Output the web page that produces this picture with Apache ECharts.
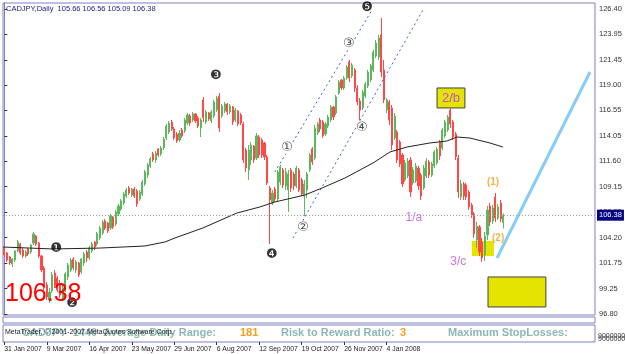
<!DOCTYPE html>
<html><head><meta charset="utf-8">
<script src="https://cdn.jsdelivr.net/npm/echarts@6/dist/echarts.min.js"></script>
<style>html,body{margin:0;padding:0;background:#fff}#c{width:625px;height:354px}</style>
</head><body><div id="c"></div>
<script>
// ---- data (each candle = 2 daily bars) ----
const titleText = 'CADJPY,Daily  105.66 106.56 105.09 106.38';
const dateLabels = ['31 Jan 2007','9 Mar 2007','16 Apr 2007','23 May 2007','29 Jun 2007','6 Aug 2007','12 Sep 2007','19 Oct 2007','26 Nov 2007','4 Jan 2008'];
const labelEvery = 16;
const totalSlots = 223;
const priceTicks = [96.80, 99.25, 101.75, 104.20, 106.65, 109.15, 111.60, 114.05, 116.55, 119.00, 121.45, 123.95, 126.40];
const lastPrice = 106.38;

const opens = [
103.20,102.71,102.32,101.64,102.03,102.91,103.58,103.00,102.42,103.10,
102.81,103.68,104.36,103.68,102.42,101.26,99.60,98.15,99.02,100.77,
100.28,99.70,98.35,99.12,100.38,101.06,102.13,101.06,101.74,100.87,
101.74,102.81,102.23,102.91,103.78,103.58,104.17,104.65,105.82,105.62,
105.14,106.21,105.53,106.50,106.98,107.57,108.24,109.02,108.34,108.92,
108.73,107.95,108.44,109.41,110.28,111.16,112.32,111.74,112.81,112.32,
112.90,113.88,114.46,115.43,114.75,114.26,113.68,114.65,114.56,115.33,
116.01,115.62,116.21,115.82,114.85,117.57,115.43,116.30,115.53,116.01,
116.59,117.95,116.01,116.50,117.18,116.40,116.89,115.62,116.50,116.11,
115.24,112.71,110.77,111.74,113.10,111.93,113.97,113.68,113.39,112.03,
109.02,107.57,108.92,107.95,109.60,110.77,109.22,108.83,110.77,110.38,
109.22,110.77,109.80,108.24,108.83,110.77,112.81,111.93,114.36,115.62,
115.43,114.26,115.04,115.62,116.89,116.30,118.24,119.51,118.73,119.70,
121.25,119.90,120.48,118.73,117.47,116.79,117.95,118.92,119.51,120.48,
121.84,121.74,123.88,120.48,116.59,117.37,116.79,113.88,114.46,113.49,
112.23,109.80,110.19,111.74,109.51,109.70,110.96,110.28,109.02,110.19,
111.55,110.28,111.16,111.45,113.49,112.90,114.07,114.65,116.59,115.43,
114.26,111.93,108.15,109.41,109.31,108.63,107.37,106.50,103.97,105.24,
103.78,102.52,104.46,107.27,105.82,108.15,106.11,107.57,105.66];
const closes = [
102.52,102.03,101.74,102.13,102.91,103.78,102.71,102.42,102.81,102.61,
103.49,104.56,103.58,102.42,101.06,99.31,98.44,98.92,100.58,99.60,
99.12,98.63,99.31,100.67,101.55,102.03,101.26,101.84,100.58,102.13,
102.61,102.23,103.20,103.58,103.29,104.56,105.14,105.72,105.14,104.85,
106.30,105.24,106.69,107.27,107.76,108.44,108.83,108.54,108.92,108.24,
107.47,108.63,109.60,110.58,111.26,111.84,111.74,112.42,112.23,112.90,
113.78,115.04,115.33,114.75,113.88,113.58,114.36,114.07,115.62,116.11,
115.33,116.21,115.53,115.04,115.62,115.82,116.40,115.72,116.40,117.37,
117.76,114.85,116.98,117.18,116.40,116.98,115.43,116.59,115.24,115.33,
111.74,110.96,112.71,113.20,111.74,114.07,112.23,112.23,112.03,109.51,
107.86,108.54,107.95,110.58,111.06,109.31,110.58,110.38,109.02,109.22,
110.96,108.83,108.44,109.41,110.38,112.23,111.55,114.85,115.24,114.75,
114.07,115.24,115.91,116.89,115.91,117.86,119.31,118.73,119.70,120.77,
119.70,120.96,118.73,117.37,116.59,118.34,119.12,120.28,120.87,122.23,
123.10,123.58,120.28,117.57,117.57,115.62,113.20,116.01,111.74,111.35,
109.41,111.45,111.64,108.63,110.77,111.16,109.22,108.24,110.96,111.64,
110.28,111.35,112.52,112.81,112.13,114.65,115.43,115.91,115.24,113.97,
112.03,108.63,109.41,108.24,108.15,107.18,106.40,104.56,105.33,102.81,
102.23,104.36,106.89,105.72,107.08,106.11,107.18,106.01,106.38];
const lows = [
102.32,101.84,101.55,101.35,101.84,102.81,102.52,102.23,102.23,102.42,
102.61,103.49,103.39,102.23,100.87,99.12,98.15,97.86,98.83,99.31,
98.92,98.35,98.05,98.92,100.09,100.87,101.06,100.77,100.38,100.67,
101.45,101.84,102.03,102.71,103.00,103.39,103.97,104.46,104.94,104.65,
104.94,105.04,105.33,106.30,106.79,107.37,108.05,108.34,108.15,108.05,
107.18,107.76,108.24,109.22,109.99,110.96,111.55,111.45,112.03,112.13,
112.71,113.68,114.26,114.56,113.68,113.39,113.49,113.88,114.36,115.14,
115.04,115.43,115.33,114.85,113.97,115.43,115.24,115.53,115.33,115.82,
116.40,114.46,115.82,116.30,116.11,116.21,115.14,115.43,115.04,115.14,
111.45,110.58,109.80,111.26,111.45,111.74,111.93,111.93,111.74,109.31,
103.58,107.37,107.66,107.66,109.31,109.02,108.83,106.69,108.63,108.83,
109.02,108.63,108.24,106.30,108.05,110.58,111.26,111.74,114.17,114.46,
113.88,114.07,114.85,115.43,115.62,116.11,118.05,118.54,118.54,119.51,
119.31,119.70,118.34,117.08,115.62,116.59,117.76,118.73,119.31,120.28,
121.64,121.45,119.80,117.27,116.30,115.14,112.71,113.68,111.45,111.06,
109.12,109.60,109.99,108.15,109.31,109.51,108.83,107.86,108.83,109.99,
109.99,110.09,110.96,111.26,111.74,112.71,113.88,114.46,114.85,113.68,
111.74,108.05,107.86,107.86,107.86,106.89,106.11,104.17,103.20,102.42,
101.84,101.94,103.97,105.33,105.53,105.72,105.92,105.72,105.09];
const highs = [
103.29,102.81,102.42,102.23,103.00,103.97,103.68,103.20,103.00,103.20,
103.58,104.75,104.46,103.78,102.52,101.45,99.90,99.31,100.87,101.06,
100.48,100.09,99.60,100.87,101.74,102.23,102.32,102.03,101.84,102.23,
102.81,103.00,103.39,103.78,103.88,104.75,105.33,105.92,106.01,105.72,
106.50,106.30,106.89,107.47,107.95,108.63,109.02,109.22,109.02,109.12,
108.92,108.83,109.80,110.77,111.45,112.03,112.52,112.61,112.90,113.10,
113.97,115.24,115.53,115.62,114.94,114.46,114.65,114.85,115.82,116.30,
116.21,116.40,116.30,116.01,115.82,117.86,116.59,116.40,116.59,117.57,
117.95,118.24,117.18,117.37,117.27,117.18,116.98,116.79,116.59,116.30,
115.43,112.90,113.20,113.49,113.20,114.36,114.17,113.88,113.49,112.23,
109.22,108.83,109.12,110.77,111.26,110.96,110.96,110.77,110.96,110.58,
111.16,110.96,109.99,109.80,110.58,112.42,113.00,115.14,115.43,115.82,
115.62,115.43,116.11,117.08,116.98,118.05,119.51,119.60,119.90,120.96,
121.45,121.16,120.67,119.02,117.76,118.54,119.31,120.48,121.06,122.42,
123.39,123.88,125.53,121.45,117.76,117.57,117.08,116.30,114.65,113.68,
112.42,111.74,111.93,112.03,111.06,111.45,111.16,110.48,111.26,111.93,
111.74,111.55,112.71,113.00,113.68,114.85,115.62,116.11,116.79,115.62,
114.46,112.23,109.80,109.60,109.51,108.83,107.57,106.69,105.72,105.43,
104.17,104.75,107.27,107.57,107.37,108.54,107.47,107.86,106.56];

// moving average (slot index, price)
const maPoints = [[-0.5,103.29],[18.3,103.10],[36.0,103.19],[53.0,103.39],[60.5,103.78],[64.3,104.17],
[74.8,105.14],[87.6,106.59],[96.3,107.18],[101.9,107.66],[113.2,108.34],[119.7,109.02],[128.3,109.99],
[138.9,111.45],[145.3,112.52],[151.7,113.00],[160.3,113.39],[166.7,113.58],[170.5,113.97],[175.4,113.87],
[182.9,113.39],[187.8,113.00]];
// trend lines
const channelUpper = [[101.9,110.57],[138.5,126.30]];
const channelLower = [[108.7,104.16],[157.7,126.30]];
const targetLine = [[185.6,102.22],[220.6,120.28]];
// wave annotations [slot, price, text]
const majorWaves = [[19.5,103.10,'❶'],[25.5,97.76,'❷'],[79.7,119.89,'❸'],[100.8,102.51,'❹'],[136.6,126.50,'❺']];
const minorWaves = [[106.5,112.90,'①'],[112.5,105.13,'②'],[129.8,123.00,'③'],[134.7,114.85,'④']];
const abcLabels = [[154.3,106.11,'1/a'],[171.0,101.83,'3/c']];
const subLabels = [[184.1,109.60,'(1)'],[186.0,104.16,'(2)']];
const boxB = [[163.0,118.73],[173.5,116.79]];
const boxC = [[176.1,103.88],[184.4,102.42]];
const boxTarget = [[182.2,100.38],[204.0,97.47]];

// ---- chart ----
const FONT = 'Liberation Sans';
const frame = '#8080c4';
const cats = Array.from({length: totalSlots}, (_, i) => String(i));
const showLabel = (idx) => idx % labelEvery === 0 && idx / labelEvery < dateLabels.length;
const candles = opens.map((o, i) => [o, closes[i], lows[i], highs[i]]);
const annot = (arr, label) => ({
  type: 'scatter', xAxisIndex: 3, yAxisIndex: 0, symbolSize: 1, z: 10,
  itemStyle: {color: 'rgba(0,0,0,0)'},
  data: arr.map(a => [a[0], a[1], a[2]]),
  label: Object.assign({show: true, position: 'inside', formatter: p => p.data[2], fontFamily: FONT}, label)
});

const chart = echarts.init(document.getElementById('c'), null, {renderer: 'canvas'});
chart.setOption({
  animation: false,
  backgroundColor: '#ffffff',
  grid: [
    {left: 3, right: 30, top: 3, bottom: 39, show: true, borderColor: frame, borderWidth: 1},
    {left: 3, right: 30, top: 317, height: 6, show: true, borderColor: frame, borderWidth: 1},
    {left: 3, right: 30, top: 325, height: 17, show: true, borderColor: frame, borderWidth: 1}
  ],
  xAxis: [
    {type: 'category', gridIndex: 0, data: cats, boundaryGap: true, axisLine: {show: false}, axisTick: {show: false}, axisLabel: {show: false}},
    {type: 'category', gridIndex: 1, data: cats, boundaryGap: true, axisLine: {show: false}, axisTick: {show: false}, axisLabel: {show: false}},
    {type: 'category', gridIndex: 2, data: cats, boundaryGap: true, position: 'bottom',
      axisLine: {show: false},
      axisTick: {show: true, alignWithLabel: true, interval: showLabel, length: 3, lineStyle: {color: '#333'}},
      axisLabel: {show: true, interval: showLabel, formatter: (v, idx) => dateLabels[idx / labelEvery] || '',
        align: 'left', margin: 4, fontSize: 6.8, color: '#222', fontFamily: FONT}},
    {type: 'value', gridIndex: 0, min: -0.5, max: totalSlots - 0.5, show: false}
  ],
  yAxis: [
    {type: 'value', gridIndex: 0, position: 'right', min: 96.69, max: 126.98, scale: true,
      axisLine: {show: true, lineStyle: {color: frame}},
      axisTick: {show: true, customValues: priceTicks, length: 3, lineStyle: {color: '#333'}},
      axisLabel: {show: true, customValues: priceTicks, formatter: v => v.toFixed(2), fontSize: 7.5, color: '#333', margin: 4, fontFamily: FONT},
      splitLine: {show: false}},
    {type: 'value', gridIndex: 1, min: 0, max: 1, show: false},
    {type: 'value', gridIndex: 2, min: 0, max: 1, show: false}
  ],
  series: [
    {type: 'line', xAxisIndex: 3, yAxisIndex: 0, data: [], z: 1,
      markArea: {silent: true, data: [
        [{coord: boxC[0], itemStyle: {color: '#e4e400'}}, {coord: boxC[1]}]
      ]}},
    {type: 'candlestick', xAxisIndex: 0, yAxisIndex: 0, data: candles, barWidth: 1.6, z: 3,
      itemStyle: {color: '#5cb85c', color0: '#ff4848', borderColor: '#5cb85c', borderColor0: '#ff4848', borderWidth: 1},
      markLine: {silent: true, symbol: 'none', data: [{yAxis: lastPrice}],
        lineStyle: {type: [1, 2], color: '#a0a0a0', width: 1},
        label: {show: true, position: 'end', distance: 2, formatter: lastPrice.toFixed(2), backgroundColor: '#000080', color: '#fff',
          fontSize: 7.5, padding: [2, 2, 1, 2], fontFamily: FONT}}},
    {type: 'line', xAxisIndex: 3, yAxisIndex: 0, data: maPoints, symbol: 'none', z: 4, lineStyle: {color: '#222', width: 1}},
    {type: 'line', xAxisIndex: 3, yAxisIndex: 0, data: channelUpper, symbol: 'none', z: 4, lineStyle: {color: '#4060d0', width: 1, type: [2, 3]}},
    {type: 'line', xAxisIndex: 3, yAxisIndex: 0, data: channelLower, symbol: 'none', z: 4, lineStyle: {color: '#4060d0', width: 1, type: [2, 3]}},
    {type: 'line', xAxisIndex: 3, yAxisIndex: 0, data: targetLine, symbol: 'none', z: 4, lineStyle: {color: '#87cdf5', width: 3}},
    {type: 'line', xAxisIndex: 3, yAxisIndex: 0, data: [], z: 6,
      markArea: {silent: true, data: [
        [{coord: boxTarget[0], itemStyle: {color: '#e4e400', borderColor: '#404040', borderWidth: 1}}, {coord: boxTarget[1]}],
        [{coord: boxB[0], name: '2/b', itemStyle: {color: '#e4e400', borderColor: '#404040', borderWidth: 1}}, {coord: boxB[1]}]
      ], label: {show: true, position: 'inside', color: '#c050d8', fontSize: 13, fontFamily: FONT}}},
    annot(majorWaves, {color: '#000', fontSize: 13, fontFamily: 'DejaVu Sans'}),
    annot(minorWaves, {color: '#222', fontSize: 13, fontFamily: 'DejaVu Sans', backgroundColor: '#fff', borderRadius: 7}),
    annot(abcLabels, {color: '#c050d8', fontSize: 12}),
    annot(subLabels, {color: '#f0a020', fontSize: 10, fontWeight: 'bold'})
  ],
  graphic: [
    {type: 'text', left: 6, top: 5, z: 20, style: {text: titleText, fill: '#1a1a80', font: '7.5px "Liberation Sans"'}},
    {type: 'text', left: 5, top: 282, z: 20, style: {text: '106.38', fill: '#ff0000', font: '25px "Liberation Sans"'}},
    {type: 'text', left: 22, top: 327, z: 20, style: {text: 'CADJPY  1440  Average Daily Range:', fill: '#8cb8b4', font: 'bold 11px "Liberation Sans"'}},
    {type: 'text', left: 240, top: 327, z: 20, style: {text: '181', fill: '#f5a020', font: 'bold 11px "Liberation Sans"'}},
    {type: 'text', left: 281, top: 327, z: 20, style: {text: 'Risk to Reward Ratio:', fill: '#8cb8b4', font: 'bold 11px "Liberation Sans"'}},
    {type: 'text', left: 400, top: 327, z: 20, style: {text: '3', fill: '#f5a020', font: 'bold 11px "Liberation Sans"'}},
    {type: 'text', left: 448, top: 327, z: 20, style: {text: 'Maximum StopLosses:', fill: '#8cb8b4', font: 'bold 11px "Liberation Sans"'}},
    {type: 'text', left: 5, top: 329, z: 21, style: {text: 'MetaTrader, © 2001-2007 MetaQuotes Software Corp.', fill: '#222', font: '7px "Liberation Sans"'}},
    {type: 'text', left: 598, top: 333, z: 20, style: {text: '9000000', fill: '#333', font: '7px "Liberation Sans"'}},
    {type: 'text', left: 598, top: 336, z: 20, style: {text: '9000000', fill: '#333', font: '7px "Liberation Sans"'}}
  ]
});
</script></body></html>
